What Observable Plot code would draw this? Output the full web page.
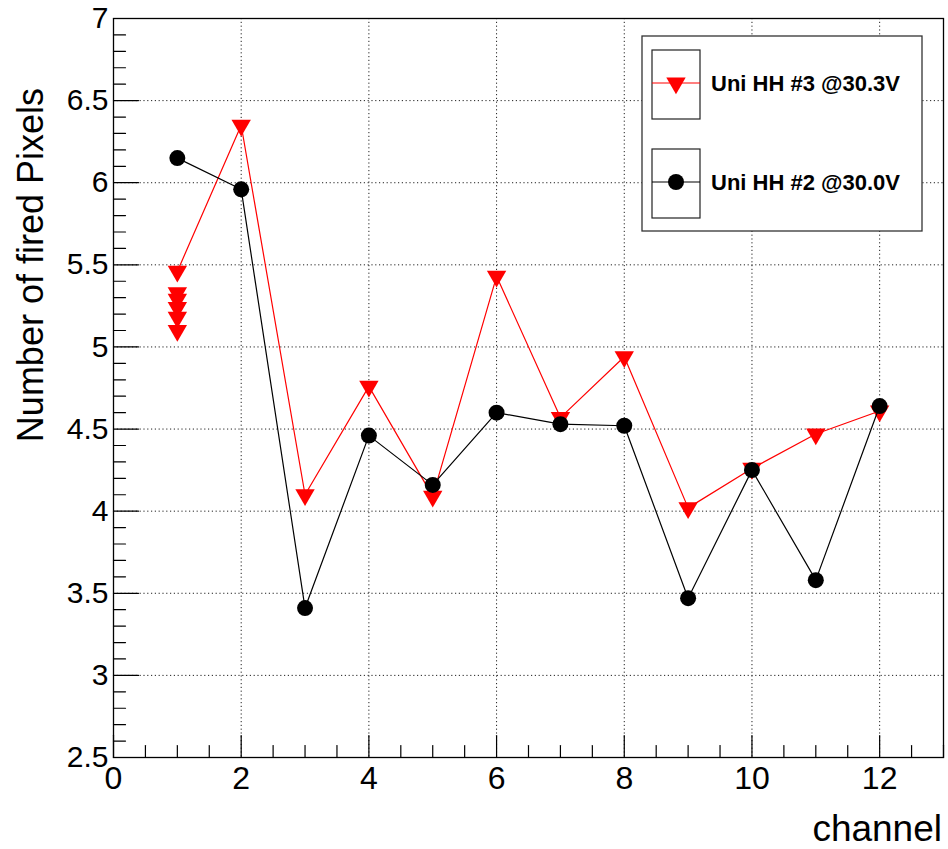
<!DOCTYPE html>
<html>
<head>
<meta charset="utf-8">
<script src="https://cdn.jsdelivr.net/npm/d3@7"></script>
<script src="https://cdn.jsdelivr.net/npm/@observablehq/plot@0.6"></script>
<style>
  html, body { margin: 0; padding: 0; background: #fff; }
  #chart { width: 948px; height: 849px; }
</style>
</head>
<body>
<div id="chart"></div>
<script>
// ---- data ----
const channels = [1, 2, 3, 4, 5, 6, 7, 8, 9, 10, 11, 12];
const hh2Values = [6.15, 5.96, 3.41, 4.46, 4.16, 4.60, 4.53, 4.52, 3.47, 4.25, 3.58, 4.64]; // Uni HH #2 @30.0V
const hh3Values = [5.46, 6.35, 4.10, 4.76, 4.09, 5.43, 4.57, 4.94, 4.02, 4.26, 4.47, 4.61]; // Uni HH #3 @30.3V
const hh3ExtraChannel = [1, 1, 1, 1, 1];
const hh3ExtraValues = [5.33, 5.29, 5.24, 5.18, 5.10];
const xMajorTicks = [0, 2, 4, 6, 8, 10, 12];
const xMinorTicks = d3.range(0, 13.01, 0.5).filter(v => v % 2 !== 0);
const yMajorTicks = [2.5, 3, 3.5, 4, 4.5, 5, 5.5, 6, 6.5, 7];
const yMinorTicks = d3.range(25, 71, 1).map(v => v / 10).filter(v => Math.round(v * 10) % 5 !== 0);
const seriesNames = ["Uni HH #3 @30.3V", "Uni HH #2 @30.0V"];
const xTitle = "channel";
const yTitle = "Number of fired Pixels";

const hh2 = channels.map((c, i) => ({channel: c, value: hh2Values[i]}));
const hh3 = channels.map((c, i) => ({channel: c, value: hh3Values[i]}));
const hh3Extra = hh3ExtraChannel.map((c, i) => ({channel: c, value: hh3ExtraValues[i]}));

const tickShape = {draw(ctx, l) { ctx.moveTo(0, 0); ctx.lineTo(0, -l); }};
const font = "'Liberation Sans', Arial, Helvetica, sans-serif";
const triR = 7.2, circR = 8;

const plot = Plot.plot({
  width: 948,
  height: 849,
  marginLeft: 113,
  marginRight: 5,
  marginTop: 18,
  marginBottom: 92,
  style: {fontFamily: font, background: "#fff", color: "#000"},
  x: {domain: [0, 13], axis: null},
  y: {domain: [2.5, 7], axis: null},
  marks: [
    Plot.gridX(xMajorTicks.filter(v => v > 0), {stroke: "#222", strokeOpacity: 1, strokeDasharray: "1.2,2.6"}),
    Plot.gridY(yMajorTicks.filter(v => v > 2.5 && v < 7), {stroke: "#222", strokeOpacity: 1, strokeDasharray: "1.2,2.6"}),
    // ticks (inside frame)
    Plot.vector(xMajorTicks, {x: d => d, frameAnchor: "bottom", length: 22, rotate: 0, anchor: "start", shape: tickShape, stroke: "#000", strokeWidth: 1.2}),
    Plot.vector(xMinorTicks, {x: d => d, frameAnchor: "bottom", length: 12, rotate: 0, anchor: "start", shape: tickShape, stroke: "#000", strokeWidth: 1.2}),
    Plot.vector(yMajorTicks, {y: d => d, frameAnchor: "left", length: 25, rotate: 90, anchor: "start", shape: tickShape, stroke: "#000", strokeWidth: 1.2}),
    Plot.vector(yMinorTicks, {y: d => d, frameAnchor: "left", length: 12, rotate: 90, anchor: "start", shape: tickShape, stroke: "#000", strokeWidth: 1.2}),
    Plot.axisX(xMajorTicks, {tickSize: 0, tickPadding: 9, fontSize: 32, tickFormat: d => `${d}`, label: null}),
    Plot.axisY(yMajorTicks, {tickSize: 0, tickPadding: 5, fontSize: 30, tickFormat: d => `${d}`, label: null}),
    Plot.frame({stroke: "#000", strokeWidth: 1.3}),
    // red series
    Plot.line(hh3, {x: "channel", y: "value", stroke: "#ff0000", strokeWidth: 1.2}),
    Plot.dot(hh3Extra, {x: "channel", y: "value", symbol: "triangle", rotate: 180, r: triR, fill: "#ff0000", stroke: "none"}),
    Plot.dot(hh3, {x: "channel", y: "value", symbol: "triangle", rotate: 180, r: triR, fill: "#ff0000", stroke: "none"}),
    // black series
    Plot.line(hh2, {x: "channel", y: "value", stroke: "#000", strokeWidth: 1.2}),
    Plot.dot(hh2, {x: "channel", y: "value", r: circR, fill: "#000", stroke: "none"})
  ]
});

document.getElementById("chart").appendChild(plot);

// ---- titles & legend ----
const svg = d3.select(plot);
svg.append("text")
  .attr("transform", "translate(43,88) rotate(-90)")
  .attr("text-anchor", "end")
  .attr("font-family", font)
  .attr("font-size", 36)
  .attr("fill", "#000")
  .text(yTitle);
svg.append("text")
  .attr("x", 942).attr("y", 841)
  .attr("text-anchor", "end")
  .attr("font-family", font)
  .attr("font-size", 37)
  .attr("fill", "#000")
  .text(xTitle);

const lg = svg.append("g");
lg.append("rect").attr("x", 642).attr("y", 36).attr("width", 280).attr("height", 195)
  .attr("fill", "#fff").attr("stroke", "#333").attr("stroke-width", 1.3);
const entries = [
  {name: seriesNames[0], color: "#ff0000", sym: "tri", cy: 83},
  {name: seriesNames[1], color: "#000", sym: "circ", cy: 182}
];
entries.forEach(e => {
  lg.append("rect").attr("x", 652).attr("y", e.cy - 33).attr("width", 48).attr("height", 69)
    .attr("fill", "none").attr("stroke", "#222").attr("stroke-width", 1.2);
  lg.append("line").attr("x1", 652).attr("x2", 700).attr("y1", e.cy).attr("y2", e.cy)
    .attr("stroke", e.color).attr("stroke-width", 1.2);
  if (e.sym === "tri") {
    lg.append("path").attr("d", d3.symbol(d3.symbolTriangle, Math.PI * triR * triR)())
      .attr("transform", `translate(676,${e.cy}) rotate(180)`).attr("fill", e.color);
  } else {
    lg.append("circle").attr("cx", 676).attr("cy", e.cy).attr("r", circR).attr("fill", e.color);
  }
  lg.append("text").attr("x", 711).attr("y", e.cy + 8)
    .attr("text-anchor", "start")
    .attr("font-family", font).attr("font-weight", "bold").attr("font-size", 22)
    .attr("fill", "#000").text(e.name);
});
</script>
</body>
</html>
